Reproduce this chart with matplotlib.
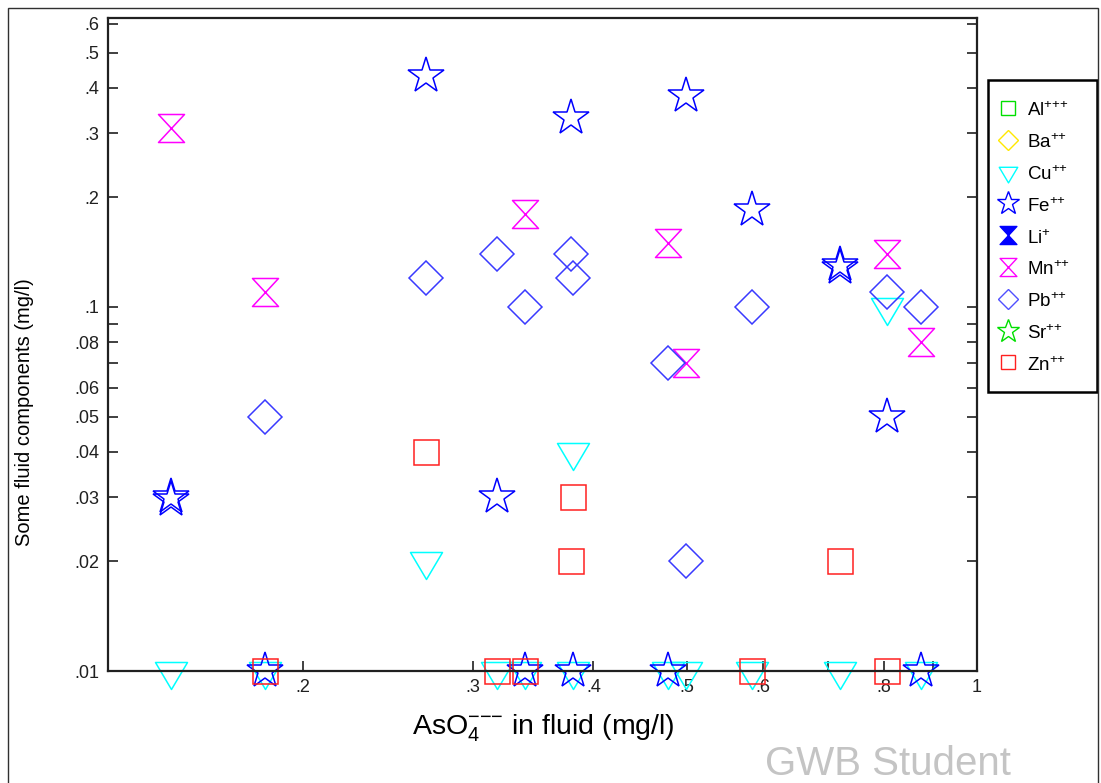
import numpy as np
import matplotlib
matplotlib.use("Agg")
import matplotlib.pyplot as plt
from matplotlib.path import Path
from matplotlib.lines import Line2D
from matplotlib.ticker import FixedLocator, FixedFormatter, NullLocator
import matplotlib.patches as mpatches

plt.rcParams['font.family'] = ['Liberation Sans', 'DejaVu Sans']
plt.rcParams['mathtext.fontset'] = 'custom'
plt.rcParams['mathtext.rm'] = 'Liberation Sans'
plt.rcParams['mathtext.it'] = 'Liberation Sans:italic'
plt.rcParams['mathtext.bf'] = 'Liberation Sans:bold'

# data (mg/l)
cu_x = [0.146, 0.1826, 0.268, 0.3177, 0.3398, 0.381, 0.381, 0.478, 0.499, 0.584, 0.721, 0.8065, 0.8747]
cu_y = [0.01, 0.01, 0.02, 0.01, 0.01, 0.04, 0.01, 0.01, 0.01, 0.01, 0.01, 0.1, 0.01]

fe_x = [0.146, 0.146, 0.1826, 0.268, 0.3177, 0.3398, 0.3792, 0.381, 0.478, 0.499, 0.584, 0.721, 0.721, 0.8065, 0.8747]
fe_y = [0.030, 0.0295, 0.01, 0.43, 0.03, 0.01, 0.33, 0.01, 0.01, 0.38, 0.185, 0.13, 0.128, 0.05, 0.01]

mn_x = [0.146, 0.1826, 0.3398, 0.478, 0.499, 0.8065, 0.8747]
mn_y = [0.31, 0.11, 0.18, 0.15, 0.07, 0.14, 0.08]

pb_x = [0.1826, 0.268, 0.3177, 0.3398, 0.3792, 0.381, 0.478, 0.499, 0.584, 0.8065, 0.8747]
pb_y = [0.05, 0.12, 0.14, 0.10, 0.14, 0.12, 0.07, 0.02, 0.10, 0.11, 0.10]

zn_x = [0.1826, 0.268, 0.3177, 0.3398, 0.3792, 0.381, 0.584, 0.721, 0.8065]
zn_y = [0.01, 0.04, 0.01, 0.01, 0.02, 0.03, 0.01, 0.02, 0.01]

species = ['Al', 'Ba', 'Cu', 'Fe', 'Li', 'Mn', 'Pb', 'Sr', 'Zn']
charges = ['+++', '++', '++', '++', '+', '++', '++', '++', '++']

xticks = [0.2, 0.3, 0.4, 0.5, 0.6, 0.7, 0.8, 0.9, 1.0]
xticklabels = ['.2', '.3', '.4', '.5', '.6', '', '.8', '', '1']
yticks = [0.01, 0.02, 0.03, 0.04, 0.05, 0.06, 0.07, 0.08, 0.09,
          0.1, 0.2, 0.3, 0.4, 0.5, 0.6]
yticklabels = ['.01', '.02', '.03', '.04', '.05', '.06', '', '.08', '',
               '.1', '.2', '.3', '.4', '.5', '.6']

# custom marker shapes
tri = Path([(-16, 9), (16, 9), (0, -18), (-16, 9)],
           [Path.MOVETO, Path.LINETO, Path.LINETO, Path.CLOSEPOLY])
hourglass = Path([(-13, 14), (13, 14), (-13, -14), (13, -14), (-13, 14)],
                 [Path.MOVETO, Path.LINETO, Path.LINETO, Path.LINETO, Path.CLOSEPOLY])

W, H = 1101, 783
fig = plt.figure(figsize=(W / 100, H / 100), dpi=100)
ax = fig.add_axes([108 / W, 1 - 671 / H, (977 - 108) / W, (671 - 18) / H])

mew = 1.1
ax.plot(cu_x, cu_y, ls='none', marker=tri, ms=36 * 0.72, mfc='none', mec='#00ffff', mew=mew, clip_on=False)
ax.plot(fe_x, fe_y, ls='none', marker='*', ms=38 * 0.72, mfc='none', mec='#0000ff', mew=mew, clip_on=False)
ax.plot(mn_x, mn_y, ls='none', marker=hourglass, ms=28 * 0.72, mfc='none', mec='#ff00ff', mew=mew, clip_on=False)
ax.plot(pb_x, pb_y, ls='none', marker='D', ms=24 * 0.72, mfc='none', mec='#3a3aff', mew=mew, clip_on=False)
ax.plot(zn_x, zn_y, ls='none', marker='s', ms=25 * 0.72, mfc='none', mec='#ff2020', mew=mew, clip_on=False)

ax.set_xscale('log')
ax.set_yscale('log')
ax.set_xlim(0.1255, 1.0)
ax.set_ylim(0.01, 0.622)

ax.xaxis.set_major_locator(FixedLocator(xticks))
ax.xaxis.set_major_formatter(FixedFormatter(xticklabels))
ax.xaxis.set_minor_locator(NullLocator())
ax.yaxis.set_major_locator(FixedLocator(yticks))
ax.yaxis.set_major_formatter(FixedFormatter(yticklabels))
ax.yaxis.set_minor_locator(NullLocator())
ax.tick_params(axis='both', direction='in', length=7, width=1.2, labelsize=13, colors='#202020')
ax.tick_params(axis='y', right=True, pad=6)
ax.tick_params(axis='x', pad=6)
for s in ax.spines.values():
    s.set_linewidth(1.6)
    s.set_color('#202020')

fig.text(543 / W, 1 - 728 / H, r'AsO$_4^{{-}{-}{-}}$ in fluid (mg/l)', ha='center', va='center', fontsize=20.5)
fig.text(25 / W, 1 - 412 / H, 'Some fluid components (mg/l)', ha='center', va='center', rotation=90, fontsize=14.5)

# legend, laid out by hand in figure pixels
leg_style = [
    dict(marker='s', ms=10, mfc='none', mec='#00e000'),
    dict(marker='D', ms=10, mfc='none', mec='#ffe800'),
    dict(marker=tri, ms=15, mfc='none', mec='#00ffff'),
    dict(marker='*', ms=17, mfc='none', mec='#0000ff'),
    dict(marker=hourglass, ms=13, mfc='#0000ff', mec='#0000ff'),
    dict(marker=hourglass, ms=13, mfc='none', mec='#ff00ff'),
    dict(marker='D', ms=10, mfc='none', mec='#5050ff'),
    dict(marker='*', ms=17, mfc='none', mec='#00e000'),
    dict(marker='s', ms=10, mfc='none', mec='#ff2020'),
]
fig.patches.append(mpatches.Rectangle((988 / W, 1 - 392 / H), (1097 - 988) / W, (392 - 80) / H,
                                      transform=fig.transFigure, fill=False,
                                      edgecolor='black', linewidth=1.8))
row_y = 108
for sp, ch, st in zip(species, charges, leg_style):
    fy = 1 - row_y / H
    fig.add_artist(Line2D([1008 / W], [fy], transform=fig.transFigure, ls='none', mew=1.0, **st))
    sup = ''.join('{+}' for _ in ch)
    fig.text(1027 / W, fy - 3 / H, sp + '$^{' + sup + '}$', ha='left', va='center', fontsize=13.5)
    row_y += 31.8

# outer frame and watermark
fig.patches.append(mpatches.Rectangle((8 / W, -0.01), (1098 - 8) / W, 1.01 - 8 / H,
                                      transform=fig.transFigure, fill=False,
                                      edgecolor='#303030', linewidth=1.0))
fig.text(765 / W, 1 - 775 / H, 'GWB Student', ha='left', va='baseline', fontsize=29, color='#c4c4c4')

fig.savefig('out.png', dpi=100)
